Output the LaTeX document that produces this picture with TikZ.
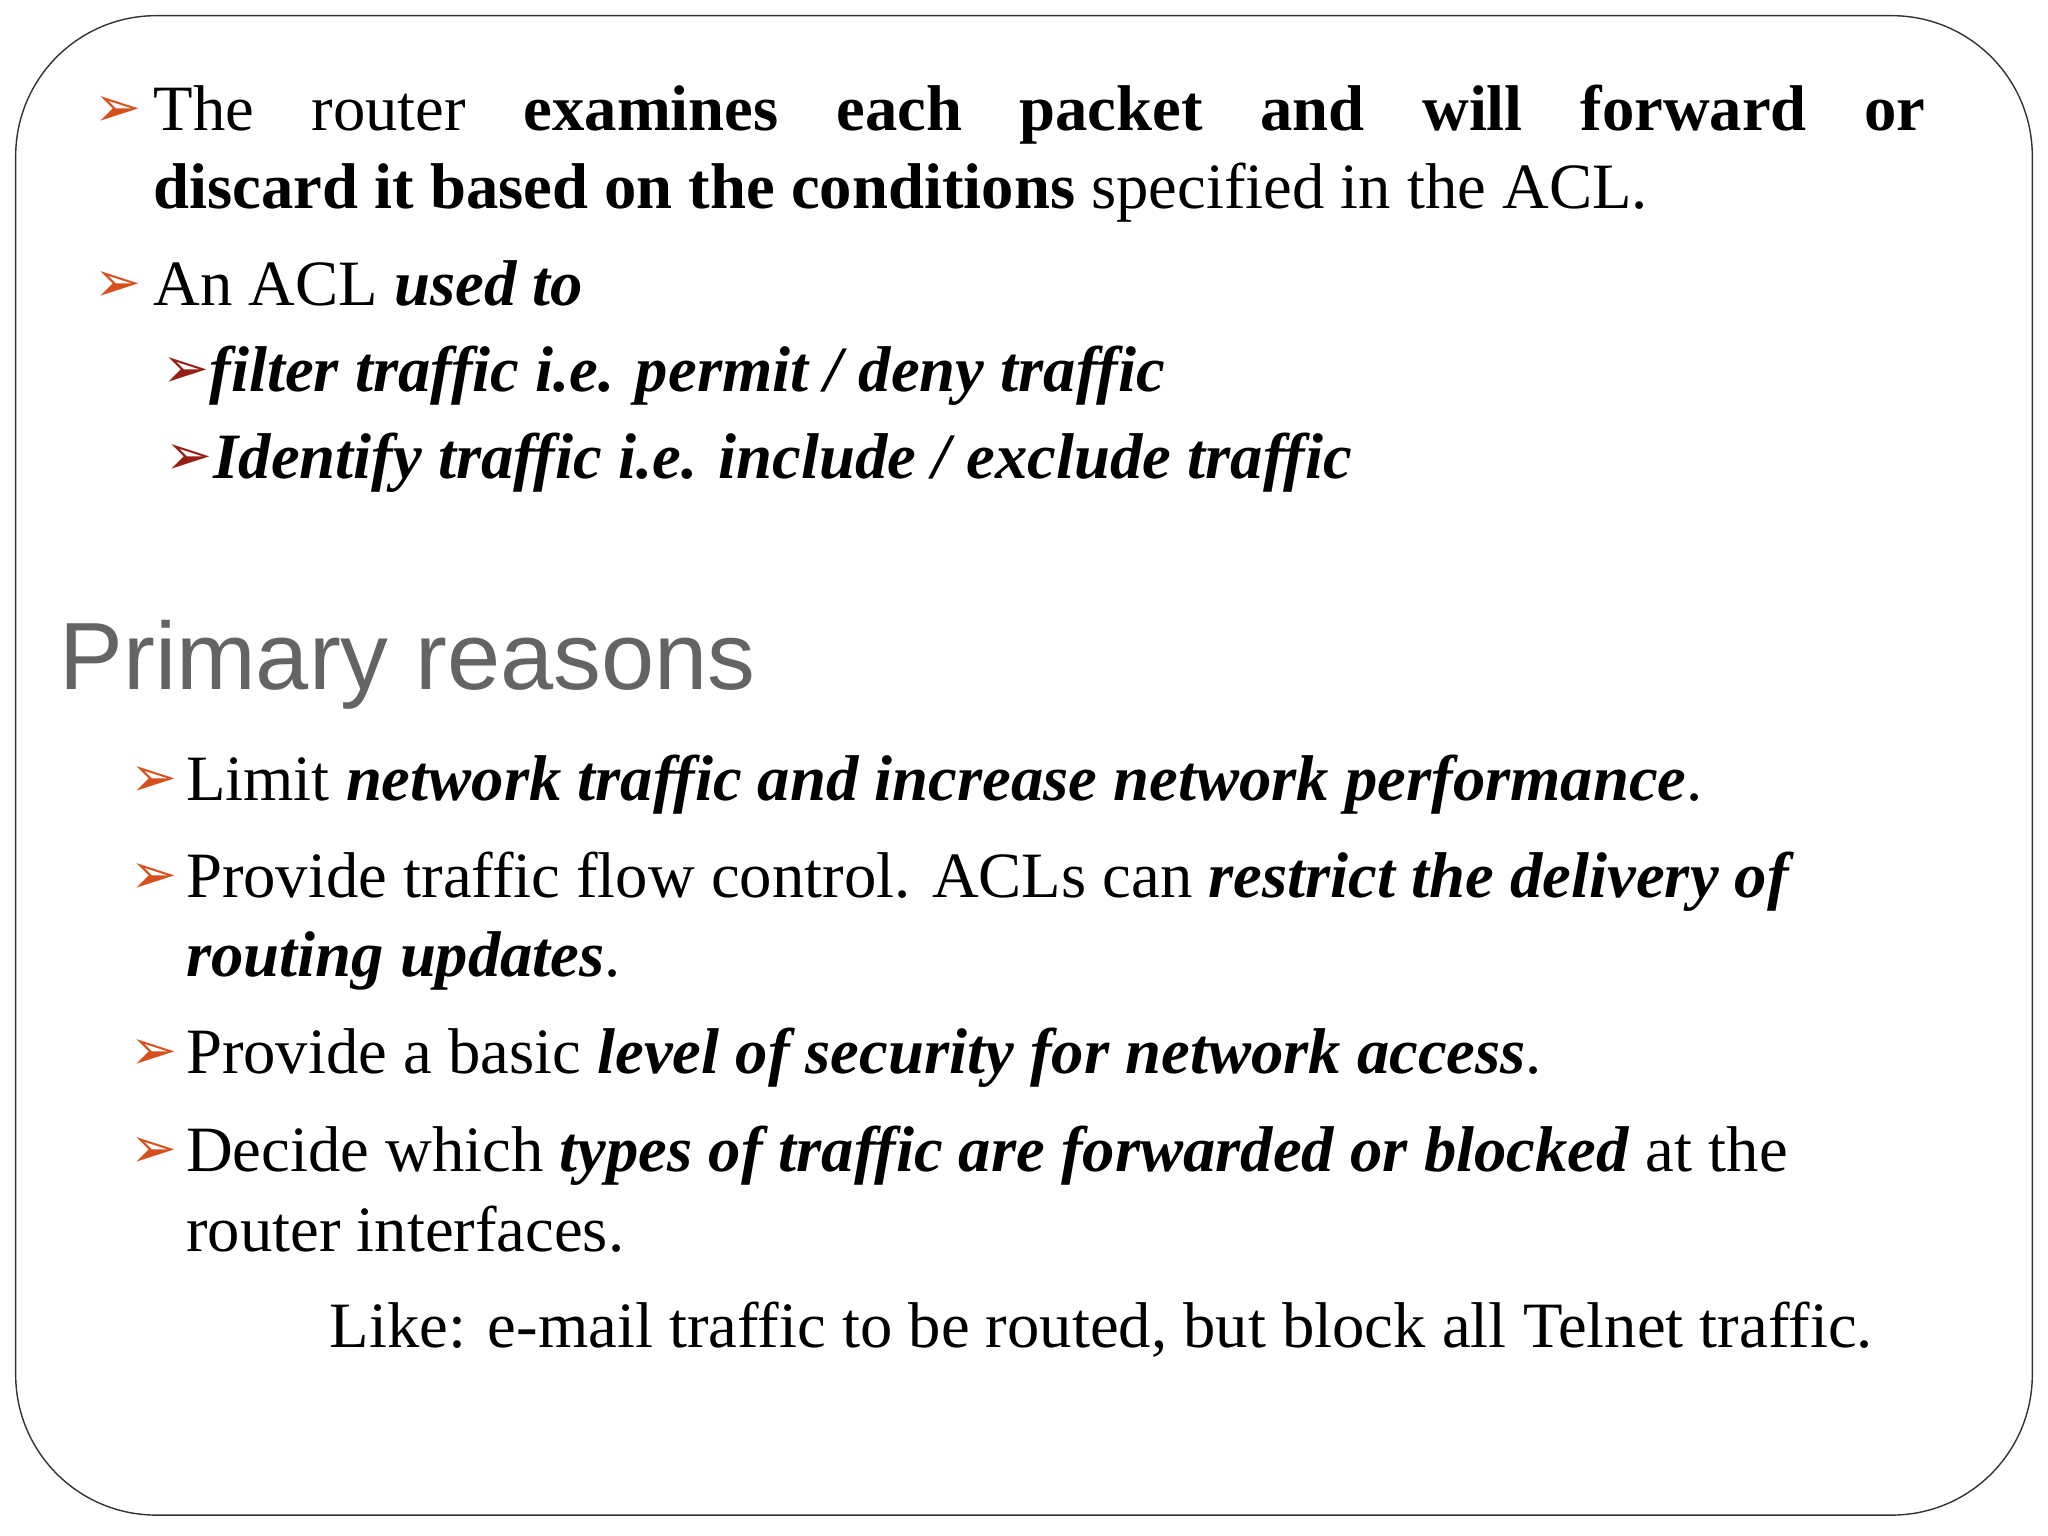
\documentclass[tikz,border=0pt]{standalone}
\usepackage{fontspec}
\setmainfont{Liberation Serif}
\newfontfamily\symfont{DejaVu Sans}
\newfontfamily\headfont{Liberation Sans}
\definecolor{bulorange}{RGB}{214,80,30}
\definecolor{buldark}{RGB}{150,30,20}
\definecolor{headgray}{RGB}{100,100,100}
\newcommand{\arrowbul}[1]{{\symfont\color{#1}\fontsize{16}{16}\selectfont ➢}}
\tikzset{
  body/.style={anchor=base west, inner sep=0pt, font=\fontsize{18.4}{22.5}\selectfont},
  bul/.style={anchor=base west, inner sep=0pt}
}
\begin{document}
\begin{tikzpicture}[x=0.01306cm,y=-0.01306cm]
        \useasboundingbox (0,0) rectangle (1568,1176);
        \draw [rounded corners=40pt, black!80] (12,12) rectangle (1556,1160);

        % first block
        \node[bul] at (72, 97)  (b1) {\arrowbul{bulorange}};
        \node[body] at (117, 100) (t1a)
          {\hbox to 17.72cm{The\hfill router\hfill \textbf{examines\hfill each\hfill packet\hfill and\hfill will\hfill forward\hfill or}}};
        \node[body] at (117, 160) (t1b) {\textbf{discard it based on the conditions} specified in the ACL.};
        \node[bul] at (72, 231)  (b2) {\arrowbul{bulorange}};
        \node[body] at (117, 234) (t2) {An ACL \textbf{\textit{used to}}};
        \node[bul] at (124, 297) (b3) {\arrowbul{buldark}};
        \node[body] at (160, 300) (t3) {\textbf{\textit{filter traffic i.e. permit / deny traffic}}};
        \node[bul] at (126, 363) (b4) {\arrowbul{buldark}};
        \node[body] at (163, 366) (t4) {\textbf{\textit{Identify traffic i.e. include / exclude traffic}}};

        % heading
        \node[anchor=base west, inner sep=0pt, font=\headfont\fontsize{27.2}{27}\selectfont, text=headgray] at (45, 528) (head) {Primary reasons};

        % reasons
        \node[bul] at (99, 610) (r1) {\arrowbul{bulorange}};
        \node[body] at (142, 613) (s1) {Limit \textbf{\textit{network traffic and increase network performance}}.};
        \node[bul] at (99, 684) (r2) {\arrowbul{bulorange}};
        \node[body] at (142, 687) (s2a) {Provide traffic flow control. ACLs can \textbf{\textit{restrict the delivery of}}};
        \node[body] at (142, 748) (s2b) {\textbf{\textit{routing updates}}.};
        \node[bul] at (99, 819) (r3) {\arrowbul{bulorange}};
        \node[body] at (142, 822) (s3) {Provide a basic \textbf{\textit{level of security for network access}}.};
        \node[bul] at (99, 894) (r4) {\arrowbul{bulorange}};
        \node[body] at (142, 897) (s4a) {Decide which \textbf{\textit{types of traffic are forwarded or blocked}} at the};
        \node[body] at (142, 958) (s4b) {router interfaces.};
        \node[body] at (252, 1032) (like) {Like: e-mail traffic to be routed, but block all Telnet traffic.};
\end{tikzpicture}
\end{document}
